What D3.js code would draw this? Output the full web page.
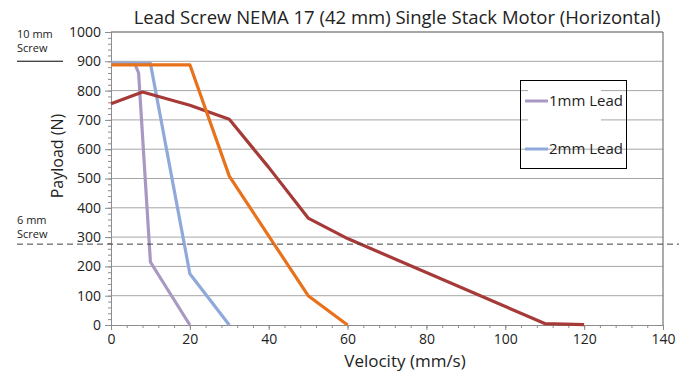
<!DOCTYPE html>
<html>
<head>
<meta charset="utf-8">
<script src="https://cdn.jsdelivr.net/npm/d3@7"></script>
<style>
  body { margin: 0; background: #fff; }
  svg { font-family: "Open Sans", "Noto Sans", sans-serif; }
</style>
</head>
<body>
<script>
// chart size
const width = 679;
const height = 371;
const margin = { top: 32, right: 16, bottom: 46, left: 111 };

// data
const title = "Lead Screw NEMA 17 (42 mm) Single Stack Motor (Horizontal)";
const xTicks = [0, 20, 40, 60, 80, 100, 120, 140];
const yTicks = [0, 100, 200, 300, 400, 500, 600, 700, 800, 900, 1000];

const lead1Vel = [0, 6, 7, 10, 20];
const lead1Load = [893, 893, 860, 215, 0];
const lead2Vel = [0, 10, 20, 30];
const lead2Load = [893, 893, 175, 0];
const screw6Vel = [0, 8, 20, 30, 40, 50, 60, 110, 120];
const screw6Load = [755, 795, 750, 702, 538, 365, 295, 5, 1];
const screw10Vel = [0, 20, 30, 50, 60];
const screw10Load = [888, 888, 508, 100, 0];

const screw6Limit = 276; // dashed line
const screw10Limit = 890; // short solid mark at left

const series = [
  { name: "1mm Lead", vel: lead1Vel, load: lead1Load, color: "#A898C2", legend: true },
  { name: "2mm Lead", vel: lead2Vel, load: lead2Load, color: "#8FAADA", legend: true },
  { name: "6mm", vel: screw6Vel, load: screw6Load, color: "#A63A38", legend: false },
  { name: "10mm", vel: screw10Vel, load: screw10Load, color: "#E8721C", legend: false }
];

const svg = d3.select("body").append("svg")
  .attr("width", width)
  .attr("height", height);

const x = d3.scaleLinear().domain([0, 140]).range([margin.left, width - margin.right]);
const y = d3.scaleLinear().domain([0, 1000]).range([height - margin.bottom, margin.top]);

// gridlines
svg.append("g")
  .selectAll("line")
  .data(yTicks.filter(d => d > 0))
  .enter()
  .append("line")
  .attr("x1", x(0)).attr("x2", x(140))
  .attr("y1", d => y(d)).attr("y2", d => y(d))
  .attr("stroke", "#a6a6a6")
  .attr("stroke-width", d => d === 1000 ? 2 : 1);

// right border
svg.append("line")
  .attr("x1", x(140)).attr("x2", x(140))
  .attr("y1", y(1000)).attr("y2", y(0))
  .attr("stroke", "#595959");

// minor ticks
const yMinor = d3.range(0, 1001, 20);
const xMinor = d3.range(0, 141, 4);

const yAxis = svg.append("g")
  .attr("transform", "translate(" + x(0) + ",0)")
  .call(d3.axisLeft(y).tickValues(yMinor).tickSize(3).tickFormat(""));
yAxis.append("g")
  .call(d3.axisLeft(y).tickValues(yTicks).tickSize(6).tickPadding(4).tickFormat(d3.format("d")));
yAxis.selectAll("path,line").attr("stroke", "#8c8c8c");

const xAxis = svg.append("g")
  .attr("transform", "translate(0," + y(0) + ")")
  .call(d3.axisBottom(x).tickValues(xMinor).tickSize(3).tickFormat(""));
xAxis.append("g")
  .call(d3.axisBottom(x).tickValues(xTicks).tickSize(5).tickFormat(d3.format("d")))
  .selectAll(".tick text")
  .attr("y", 9);
xAxis.selectAll("path,line").attr("stroke", "#8c8c8c");

svg.selectAll(".tick text")
  .attr("font-size", 14)
  .attr("fill", "#222")
  .attr("font-family", "Open Sans, sans-serif");

// series lines
const line = d3.line()
  .x(d => x(d[0]))
  .y(d => y(d[1]));

series.forEach(s => {
  svg.append("path")
    .datum(s.vel.map((v, i) => [v, s.load[i]]))
    .attr("d", line)
    .attr("fill", "none")
    .attr("stroke", s.color)
    .attr("stroke-width", 3.2)
    .attr("stroke-linejoin", "round");
});

// 6 mm screw dashed limit
svg.append("line")
  .attr("x1", 17).attr("x2", width)
  .attr("y1", y(screw6Limit)).attr("y2", y(screw6Limit))
  .attr("stroke", "#404040")
  .attr("stroke-width", 1)
  .attr("stroke-dasharray", "6,4");

// 10 mm screw short mark
svg.append("line")
  .attr("x1", 17).attr("x2", 63)
  .attr("y1", y(screw10Limit) - 3).attr("y2", y(screw10Limit) - 3)
  .attr("stroke", "#000")
  .attr("stroke-width", 1);

const sideLabel = svg.append("g")
  .attr("font-size", 11)
  .attr("fill", "#222");
sideLabel.append("text").attr("x", 17).attr("y", 38).text("10 mm");
sideLabel.append("text").attr("x", 17).attr("y", 52).text("Screw");
sideLabel.append("text").attr("x", 17).attr("y", 224).text("6 mm");
sideLabel.append("text").attr("x", 17).attr("y", 238).text("Screw");

// legend
const legend = svg.append("g");
legend.append("rect")
  .attr("x", 528).attr("y", 84)
  .attr("width", 73).attr("height", 44)
  .attr("fill", "#fff");
legend.append("rect")
  .attr("x", 520.5).attr("y", 80.5)
  .attr("width", 106).attr("height", 88)
  .attr("fill", "none")
  .attr("stroke", "#000")
  .attr("stroke-width", 1);

series.filter(s => s.legend).forEach((s, i) => {
  const ly = 101 + i * 48;
  legend.append("line")
    .attr("x1", 525).attr("x2", 548)
    .attr("y1", ly).attr("y2", ly)
    .attr("stroke", s.color)
    .attr("stroke-width", 3);
  legend.append("text")
    .attr("x", 549).attr("y", ly + 5)
    .attr("font-size", 15)
    .attr("fill", "#222")
    .text(s.name);
});

// titles
svg.append("text")
  .attr("x", 397).attr("y", 24)
  .attr("text-anchor", "middle")
  .attr("font-size", 18.5)
  .attr("fill", "#222")
  .text(title);

svg.append("text")
  .attr("x", 405).attr("y", 367)
  .attr("text-anchor", "middle")
  .attr("font-size", 17)
  .attr("fill", "#222")
  .text("Velocity (mm/s)");

svg.append("text")
  .attr("transform", "translate(63,156) rotate(-90)")
  .attr("text-anchor", "middle")
  .attr("font-size", 16)
  .attr("fill", "#222")
  .text("Payload (N)");
</script>
</body>
</html>
